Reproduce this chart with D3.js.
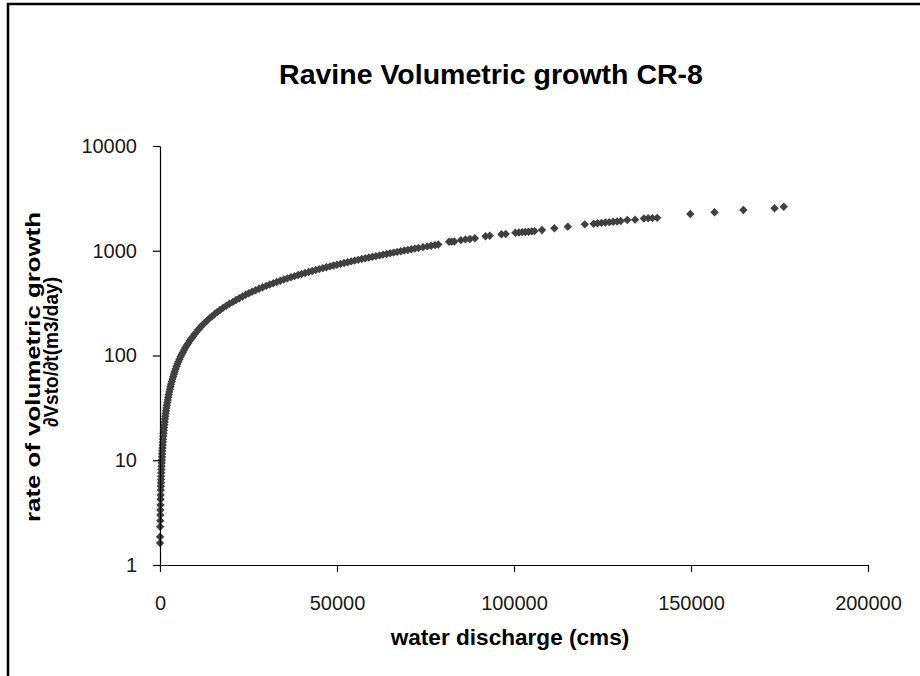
<!DOCTYPE html>
<html>
<head>
<meta charset="utf-8">
<script src="https://cdn.jsdelivr.net/npm/d3@7/dist/d3.min.js"></script>
<style>
  html, body { margin: 0; padding: 0; background: #fff; }
  svg { display: block; }
  text { font-family: "Liberation Sans", Arial, sans-serif; }
</style>
</head>
<body>
<svg id="chart" width="920" height="676"></svg>
<script>
// ---- data ----
const discharge = [
  5, 16, 44, 64, 85, 106, 130, 160, 185, 218, 245, 272, 300, 330, 362, 396, 432, 470, 510, 553,
  598, 646, 697, 751, 808, 868, 932, 1000, 1072, 1148, 1228, 1313, 1403, 1498, 1598, 1704, 1816, 1934, 2058, 2189,
  2327, 2472, 2625, 2786, 2955, 3133, 3320, 3517, 3724, 3941, 4169, 4409, 4661, 4925, 5202, 5493, 5798, 6118, 6454, 6806,
  7175, 7562, 7968, 8393, 8839, 9306, 9796, 10309, 10846, 11409, 11998, 12615, 13261, 13937, 14645, 15386, 16161, 16972, 17820, 18707,
  19635, 20600, 21500, 22400, 23300, 24200, 25100, 26000, 27000, 28000, 29000, 30000, 31000, 32000, 33000, 34000, 35000, 36000, 37000, 38000,
  39000, 40000, 41000, 42000, 43000, 44000, 45000, 46000, 47000, 48000, 49000, 50000, 51000, 52000, 53000, 54000, 55000, 56000, 57000, 58000,
  59000, 60000, 61000, 62000, 63000, 64000, 65000, 66000, 67000, 68000, 69000, 70000, 71000, 72000, 73000, 74300, 75500, 76600, 77700, 78600,
  81650, 82400, 83150, 85000, 86300, 87550, 88950, 91950, 93150, 96450, 97650, 100400, 101400, 102300, 103200, 104100, 105000, 105800, 107900, 111400,
  115200, 120000, 122500, 123600, 124700, 125800, 126900, 128000, 129100, 130150, 132000, 134200, 136700, 137900, 139100, 140450, 149800, 156650, 164800, 173600,
  176200
];
const growth = [
  1.62, 1.86, 2.32, 2.65, 3.0, 3.35, 3.74, 4.24, 4.66, 5.2, 5.65, 6.1, 6.55, 7.05, 7.6, 8.15, 8.75, 9.4, 10.05, 10.75,
  11.5, 12.3, 13.1, 14.0, 14.9, 15.9, 17.0, 18.1, 19.3, 20.5, 21.8, 23.2, 24.7, 26.3, 27.9, 29.7, 31.5, 33.5, 35.5, 37.7,
  40.0, 42.4, 44.9, 47.5, 50.3, 53.3, 56.4, 59.6, 63.0, 66.6, 70.4, 74.3, 78.5, 82.8, 87.4, 92.2, 97.2, 102, 107, 113,
  119, 125, 131, 138, 145, 152, 160, 168, 177, 186, 195, 205, 215, 226, 236, 248, 260, 272, 285, 298,
  312, 325, 339, 352, 366, 380, 393, 406, 420, 434, 448, 462, 476, 490, 503, 517, 531, 545, 559, 572,
  586, 600, 614, 627, 641, 654, 668, 682, 695, 709, 722, 736, 750, 764, 777, 791, 805, 819, 833, 847,
  861, 875, 889, 903, 918, 932, 946, 960, 975, 989, 1004, 1018, 1033, 1048, 1062, 1082, 1100, 1116, 1132, 1146,
  1220, 1222, 1226, 1262, 1283, 1295, 1315, 1375, 1390, 1436, 1447, 1485, 1495, 1505, 1512, 1520, 1530, 1540, 1578, 1638,
  1698, 1787, 1810, 1830, 1845, 1860, 1875, 1890, 1905, 1920, 1966, 1980, 2030, 2040, 2050, 2060, 2244, 2330, 2449, 2543,
  2633
];
const xTickValues = [0, 50000, 100000, 150000, 200000];
const yTickValues = [1, 10, 100, 1000, 10000];
const titleText = "Ravine Volumetric growth CR-8";
const xLabelText = "water discharge (cms)";
const yLabelLines = ["rate of volumetric growth", "\u2202Vsto/\u2202t(m3/day)"];

// ---- drawing ----
const svg = d3.select("#chart");
svg.append("rect").attr("width", 920).attr("height", 676).attr("fill", "#fff");

// chart-area frame (top and left edges visible)
svg.append("path")
  .attr("d", "M8,676 L8,4 L920,4")
  .attr("fill", "none").attr("stroke", "#000").attr("stroke-width", 2.5);

const x = d3.scaleLinear().domain([0, 200000]).range([160, 868]);
const y = d3.scaleLog().domain([1, 10000]).range([565, 146]);

const points = discharge.map((q, i) => ({ q, v: growth[i] }));

// points
const diamond = "M0,-4.2L4.2,0L0,4.2L-4.2,0Z";
svg.append("g").selectAll("path")
  .data(points)
  .join("path")
  .attr("d", diamond)
  .attr("transform", d => `translate(${x(d.q)},${y(d.v)})`)
  .attr("fill", "#404040");

// axes
const xAxis = d3.axisBottom(x)
  .tickValues(xTickValues)
  .tickFormat(d3.format("d"))
  .tickSize(7).tickSizeOuter(0).tickPadding(24);
const gx = svg.append("g").attr("transform", "translate(0,565)").call(xAxis);

const yAxis = d3.axisLeft(y)
  .tickValues(yTickValues)
  .tickFormat(d3.format("d"))
  .tickSize(7).tickSizeOuter(0).tickPadding(16);
const gy = svg.append("g").attr("transform", "translate(160,0)").call(yAxis);

[gx, gy].forEach(g => {
  g.select(".domain").attr("stroke", "#000").attr("stroke-width", 1.2);
  g.selectAll(".tick line").attr("stroke", "#000").attr("stroke-width", 1.2);
  g.selectAll(".tick text")
    .attr("fill", "#1a1a1a")
    .style("font-family", '"Liberation Sans", Arial, sans-serif')
    .style("font-size", "20px");
});

// title
svg.append("text")
  .attr("x", 491).attr("y", 84)
  .attr("text-anchor", "middle")
  .style("font-size", "28.5px").style("font-weight", "bold")
  .attr("fill", "#000")
  .text(titleText);

// x label
svg.append("text")
  .attr("x", 510).attr("y", 645)
  .attr("text-anchor", "middle")
  .style("font-size", "22.6px").style("font-weight", "bold")
  .attr("fill", "#000")
  .text(xLabelText);

// y label (two lines, rotated)
const yl = [
  { t: yLabelLines[0], x: 40, cy: 367, len: 310 },
  { t: yLabelLines[1], x: 58, cy: 352, len: 150 }
];
yl.forEach(l => {
  svg.append("text")
    .attr("transform", `translate(${l.x},${l.cy}) rotate(-90)`)
    .attr("text-anchor", "middle")
    .attr("textLength", l.len)
    .attr("lengthAdjust", "spacingAndGlyphs")
    .style("font-size", "21px").style("font-weight", "bold")
    .attr("fill", "#000")
    .text(l.t);
});
</script>
</body>
</html>
